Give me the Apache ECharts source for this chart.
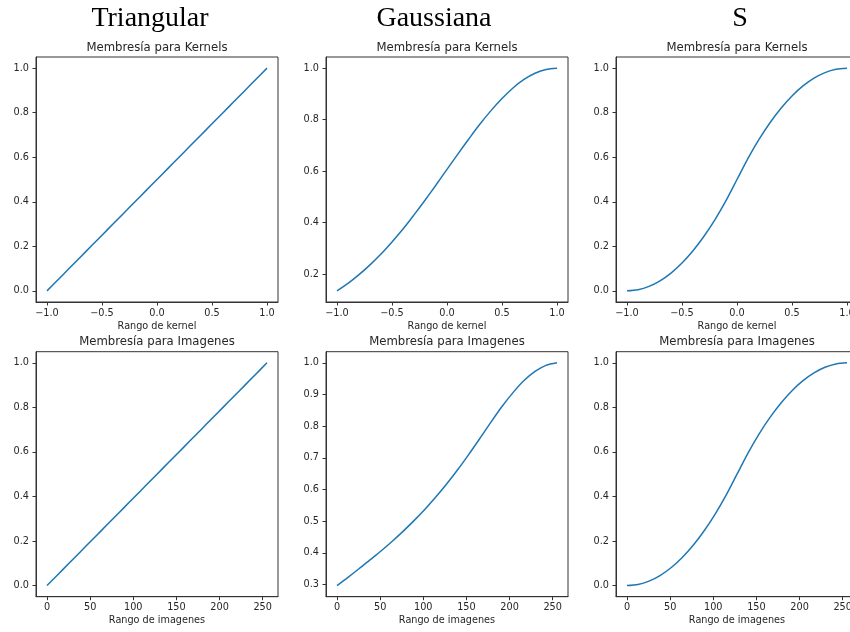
<!DOCTYPE html>
<html>
<head>
<meta charset="utf-8">
<script src="https://cdn.jsdelivr.net/npm/echarts@6/dist/echarts.min.js"></script>
<style>
  html, body { margin: 0; padding: 0; background: #fff; overflow: hidden; }
  #chart { width: 864px; height: 632px; }
</style>
</head>
<body>
<div id="chart"></div>
<script>
// ---------- data ----------
const columnTitles = ['Triangular', 'Gaussiana', 'S'];
const kernelTitle = 'Membresía para Kernels';
const imageTitle = 'Membresía para Imagenes';
const kernelAxisName = 'Rango de kernel';
const imageAxisName = 'Rango de imagenes';

const kernelX = [-1.0, -0.9, -0.8, -0.7, -0.6, -0.5, -0.4, -0.3, -0.2, -0.1, 0.0,
                 0.1, 0.2, 0.3, 0.4, 0.5, 0.6, 0.7, 0.8, 0.9, 1.0];
const imageX = [0, 12.75, 25.5, 38.25, 51, 63.75, 76.5, 89.25, 102, 114.75, 127.5,
                140.25, 153, 165.75, 178.5, 191.25, 204, 216.75, 229.5, 242.25, 255];

const triKernelY = [0.0, 0.05, 0.1, 0.15, 0.2, 0.25, 0.3, 0.35, 0.4, 0.45, 0.5,
                    0.55, 0.6, 0.65, 0.7, 0.75, 0.8, 0.85, 0.9, 0.95, 1.0];
const gaussKernelY = [0.135, 0.164, 0.198, 0.236, 0.278, 0.325, 0.375, 0.430, 0.487, 0.546, 0.607,
                      0.667, 0.726, 0.783, 0.835, 0.882, 0.923, 0.956, 0.980, 0.995, 1.0];
const sKernelY = [0.0, 0.005, 0.02, 0.045, 0.08, 0.125, 0.18, 0.245, 0.32, 0.405, 0.5,
                  0.595, 0.68, 0.755, 0.82, 0.875, 0.92, 0.955, 0.98, 0.995, 1.0];

const triImageY = [0.0, 0.05, 0.1, 0.15, 0.2, 0.25, 0.3, 0.35, 0.4, 0.45, 0.5,
                   0.55, 0.6, 0.65, 0.7, 0.75, 0.8, 0.85, 0.9, 0.95, 1.0];
const gaussImageY = [0.297, 0.323, 0.350, 0.378, 0.406, 0.436, 0.468, 0.502, 0.538, 0.577, 0.619,
                     0.664, 0.712, 0.762, 0.813, 0.862, 0.906, 0.944, 0.973, 0.992, 1.0];
const sImageY = [0.0, 0.005, 0.02, 0.045, 0.08, 0.125, 0.18, 0.245, 0.32, 0.405, 0.5,
                 0.595, 0.68, 0.755, 0.82, 0.875, 0.92, 0.955, 0.98, 0.995, 1.0];

const kernelTicks = [-1.0, -0.5, 0.0, 0.5, 1.0];
const imageTicks = [0, 50, 100, 150, 200, 250];
const yTicksUnit = [0.0, 0.2, 0.4, 0.6, 0.8, 1.0];
const yTicksGaussKernel = [0.2, 0.4, 0.6, 0.8, 1.0];
const yTicksGaussImage = [0.3, 0.4, 0.5, 0.6, 0.7, 0.8, 0.9, 1.0];

// ---------- layout ----------
const colLeft = [36, 326, 616];
const rowTop = [57, 351.7];
const plotW = 242;
const plotH = 245;
const textColor = '#262626';
const spineColor = '#333';
const lineColor = '#1f77b4';
const font = '"DejaVu Sans", sans-serif';

const panels = [
  { row: 0, col: 0, x: kernelX, y: triKernelY, xTicks: kernelTicks, yTicks: yTicksUnit },
  { row: 0, col: 1, x: kernelX, y: gaussKernelY, xTicks: kernelTicks, yTicks: yTicksGaussKernel },
  { row: 0, col: 2, x: kernelX, y: sKernelY, xTicks: kernelTicks, yTicks: yTicksUnit },
  { row: 1, col: 0, x: imageX, y: triImageY, xTicks: imageTicks, yTicks: yTicksUnit },
  { row: 1, col: 1, x: imageX, y: gaussImageY, xTicks: imageTicks, yTicks: yTicksGaussImage },
  { row: 1, col: 2, x: imageX, y: sImageY, xTicks: imageTicks, yTicks: yTicksUnit }
];

function ext(arr) {
  const mn = Math.min.apply(null, arr), mx = Math.max.apply(null, arr);
  const m = (mx - mn) * 0.05;
  return [mn - m, mx + m];
}
function fmtX(v, isKernel) {
  if (isKernel) {
    const s = Math.abs(v).toFixed(1);
    return v < 0 ? '\u2212' + s : s;
  }
  return String(Math.round(v));
}

const grids = [], xAxes = [], yAxes = [], series = [], graphics = [];
panels.forEach((p, i) => {
  const isKernel = p.row === 0;
  grids.push({
    left: colLeft[p.col], top: rowTop[p.row], width: plotW, height: plotH,
    show: true, borderColor: spineColor, borderWidth: 1, containLabel: false
  });
  const xe = ext(p.x), ye = ext(p.y);
  xAxes.push({
    type: 'value', gridIndex: i, min: xe[0], max: xe[1],
    name: isKernel ? kernelAxisName : imageAxisName,
    nameLocation: 'middle', nameGap: 19,
    nameTextStyle: { color: textColor, fontSize: 9.7, fontFamily: font },
    axisLine: { show: true, onZero: false, lineStyle: { color: spineColor, width: 1 } },
    axisTick: { show: true, inside: false, length: 3.5, customValues: p.xTicks,
                lineStyle: { color: spineColor, width: 1 } },
    axisLabel: { show: true, margin: 6, customValues: p.xTicks, color: textColor,
                 fontSize: 9.7, fontFamily: font,
                 formatter: v => fmtX(v, isKernel) },
    splitLine: { show: false }
  });
  yAxes.push({
    type: 'value', gridIndex: i, min: ye[0], max: ye[1],
    axisLine: { show: true, onZero: false, lineStyle: { color: spineColor, width: 1 } },
    axisTick: { show: true, inside: false, length: 3.5, customValues: p.yTicks,
                lineStyle: { color: spineColor, width: 1 } },
    axisLabel: { show: true, margin: 7, customValues: p.yTicks, color: textColor,
                 fontSize: 9.7, fontFamily: font,
                 formatter: v => v.toFixed(1) },
    splitLine: { show: false }
  });
  series.push({
    type: 'line', xAxisIndex: i, yAxisIndex: i,
    data: p.x.map((xv, k) => [xv, p.y[k]]),
    showSymbol: false, smooth: 0.3,
    lineStyle: { color: lineColor, width: 1.5 },
    itemStyle: { color: lineColor },
    silent: true, animation: false
  });
  // subplot title
  graphics.push({
    type: 'text',
    x: colLeft[p.col] + plotW / 2,
    y: isKernel ? 47.5 : 342,
    style: {
      text: isKernel ? kernelTitle : imageTitle,
      fill: textColor, fontSize: 11.7, fontFamily: font,
      align: 'center', verticalAlign: 'middle'
    }
  });
});

const colCenters = [150, 434, 740];
columnTitles.forEach((t, c) => {
  graphics.push({
    type: 'text', x: colCenters[c], y: 19,
    style: {
      text: t, fill: '#000', fontSize: 28, fontFamily: '"Liberation Serif", serif',
      align: 'center', verticalAlign: 'middle'
    }
  });
});

const chart = echarts.init(document.getElementById('chart'), null, { renderer: 'canvas' });
chart.setOption({
  backgroundColor: '#fff',
  animation: false,
  grid: grids,
  xAxis: xAxes,
  yAxis: yAxes,
  series: series,
  graphic: graphics
});
</script>
</body>
</html>
